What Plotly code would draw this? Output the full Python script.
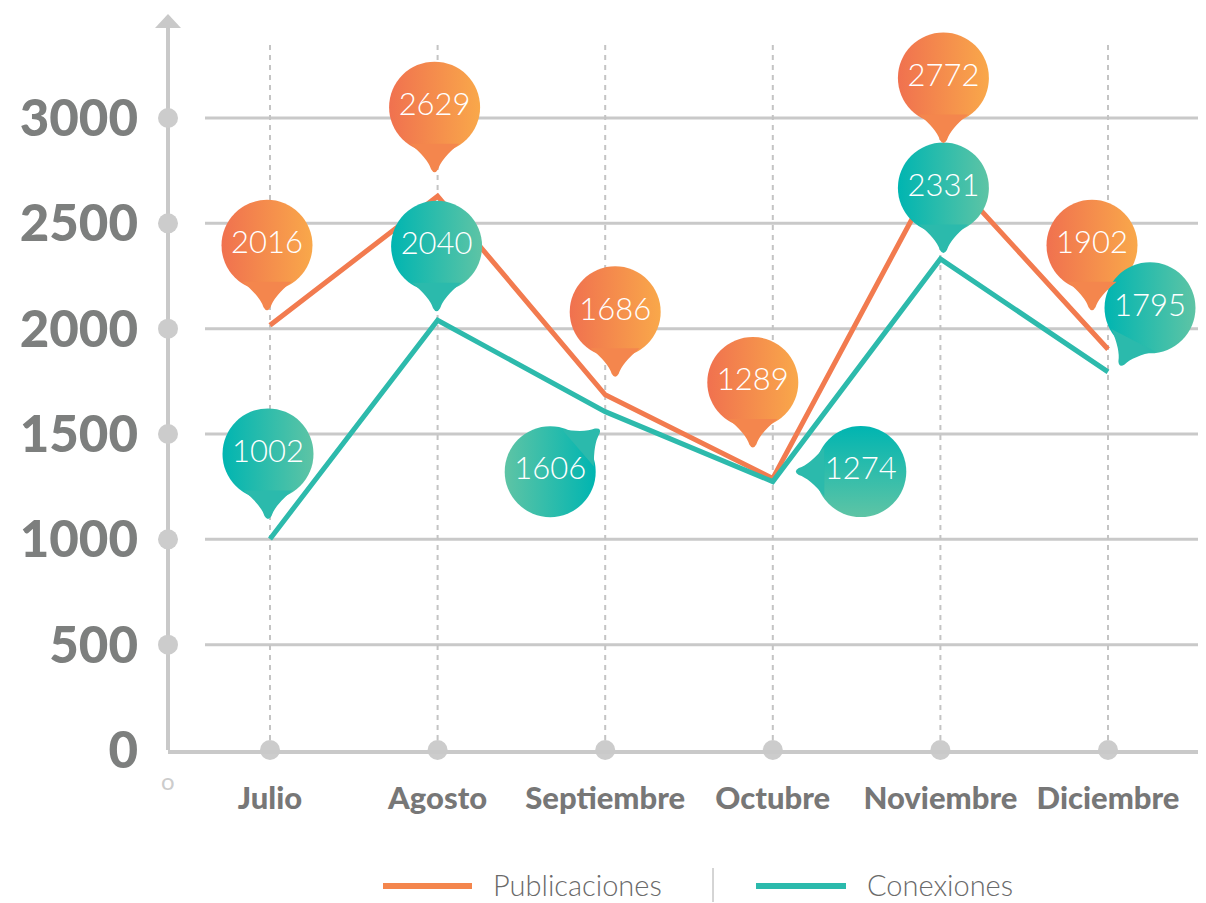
import math
import plotly.graph_objects as go

# ---------------- data ----------------
meses = ["Julio", "Agosto", "Septiembre", "Octubre", "Noviembre", "Diciembre"]
publicaciones = [2016, 2629, 1686, 1289, 2772, 1902]
conexiones = [1002, 2040, 1606, 1274, 2331, 1795]
y_ticks = [0, 500, 1000, 1500, 2000, 2500, 3000]

# ---------------- geometry ----------------
PAGE_OFF = 8                         # default body margin of the page
W, H = 1206 - PAGE_OFF, 903 - PAGE_OFF
ML, MR, MT, MB = 160, 1, 7, 153
PW, PH = W - ML - MR, H - MT - MB
PX_Y = 632 / 3000.0                  # pixels per unit on y
STEP = 167.6                         # pixels per category
X0 = 102                             # px from plot left edge to first category
xr = [-X0 / STEP, (PW - X0) / STEP]
yr = [0, PH / PX_Y]

def py_paper(py):                    # screen pixel y -> paper y
    return (H - MB - (py - PAGE_OFF)) / PH

def px_paper(px):                    # screen pixel x -> paper x
    return (px - PAGE_OFF - ML) / PW

# pin placement (screen px offsets from the point, tail direction)
pub_off = [(-3, -80), (-3, -89), (10, -83), (-20, -96), (3, -88), (-16, -104)]
pub_dir = [(0, 1)] * 6
con_off = [(-2, -85), (-1, -74), (-55, 60), (88, -10), (3, -71), (42, -64)]
con_dir = [(0, 1), (0, 1), (50, -43), (-1, 0), (0, 1), (-30, 58)]

ORANGE_L, ORANGE_R, ORANGE_M = "#F0714F", "#F9A84A", "#F4864D"
TEAL_L, TEAL_R, TEAL_M = "#00B5B1", "#5EC4A5", "#2BBAAC"
GRID = "#C9C9C9"

def tail_path(sx, sy):
    n = math.hypot(sx, sy)
    dx, dy = sx / n, -sy / n
    qx, qy = -dy, dx
    def pt(a, b):
        return (a * dx + b * qx, a * dy + b * qy)
    th = math.radians(34)
    B1 = pt(44 * math.cos(th), 44 * math.sin(th))
    B2 = pt(44 * math.cos(th), -44 * math.sin(th))
    C1, C2 = pt(51, 7), pt(51, -7)
    T1, T2, TT = pt(62, 3.5), pt(62, -3.5), pt(68, 0)
    f = lambda p: f"{p[0]:.1f},{p[1]:.1f}"
    return f"M{f(B1)} Q{f(C1)} {f(T1)} Q{f(TT)} {f(T2)} Q{f(C2)} {f(B2)} Z"

fig = go.Figure()
shapes = []

# horizontal grid lines
for t in y_ticks[1:]:
    shapes.append(dict(type="line", xref="paper", yref="y", x0=px_paper(205), x1=1,
                       y0=t, y1=t, line=dict(color=GRID, width=3), layer="below"))
# vertical dotted lines
for i in range(len(meses)):
    shapes.append(dict(type="line", xref="x", yref="paper", x0=i, x1=i,
                       y0=0, y1=py_paper(40), line=dict(color="#C4C4C4", width=2, dash="5px,5px"),
                       layer="below"))
# y axis line + arrow
shapes.append(dict(type="line", xref="paper", yref="paper", x0=0, x1=0, y0=0, y1=py_paper(27),
                   line=dict(color=GRID, width=4), layer="below"))
shapes.append(dict(type="path", xref="paper", yref="paper",
                   path=f"M{px_paper(155)},{py_paper(28)} L{px_paper(181)},{py_paper(28)} L0,{py_paper(14)} Z",
                   fillcolor=GRID, line=dict(width=0), layer="below"))

# lines
fig.add_trace(go.Scatter(x=list(range(len(meses))), y=publicaciones, mode="lines",
                         line=dict(color="#F27B4F", width=5), name="Publicaciones",
                         hoverinfo="skip", showlegend=False, cliponaxis=False))
fig.add_trace(go.Scatter(x=list(range(len(meses))), y=conexiones, mode="lines",
                         line=dict(color="#2DBAAC", width=5), name="Conexiones",
                         hoverinfo="skip", showlegend=False, cliponaxis=False))

# axis dots
fig.add_trace(go.Scatter(x=[xr[0]] * len(y_ticks[1:]), y=y_ticks[1:], mode="markers",
                         marker=dict(size=20, color="#CCCCCC"), hoverinfo="skip",
                         showlegend=False, cliponaxis=False))
fig.add_trace(go.Scatter(x=list(range(len(meses))), y=[0] * len(meses), mode="markers",
                         marker=dict(size=20, color="#CCCCCC"), hoverinfo="skip",
                         showlegend=False, cliponaxis=False))

def add_pins(values, offs, dirs, cl, cr, cm, gtypes, gswap):
    xs, ys, mc, gc = [], [], [], []
    for i, v in enumerate(values):
        dx, dy = offs[i]
        xc = i + dx / STEP
        yc = v - dy / PX_Y
        xs.append(xc)
        ys.append(yc)
        if gswap[i]:
            mc.append(cr); gc.append(cl)
        else:
            mc.append(cl); gc.append(cr)
        shapes.append(dict(type="path", xref="x", yref="y", xsizemode="pixel",
                           ysizemode="pixel", xanchor=xc, yanchor=yc,
                           path=tail_path(*dirs[i]), fillcolor=cm,
                           line=dict(width=0), layer="above"))
    fig.add_trace(go.Scatter(
        x=xs, y=ys, mode="markers+text", text=[str(v) for v in values],
        textposition="middle center",
        textfont=dict(color="white", size=31, family="Lato", weight=300),
        marker=dict(size=91, color=mc, line=dict(width=0),
                    gradient=dict(type=gtypes, color=gc)),
        hoverinfo="skip", showlegend=False, cliponaxis=False))

add_pins(publicaciones, pub_off, pub_dir, ORANGE_L, ORANGE_R, ORANGE_M,
         ["horizontal"] * 6, [False] * 6)
add_pins(conexiones, con_off, con_dir, TEAL_L, TEAL_R, TEAL_M,
         ["horizontal", "horizontal", "horizontal", "vertical", "horizontal", "horizontal"],
         [False, False, True, False, False, False])

# custom legend
ly = py_paper(886)
shapes.append(dict(type="line", xref="paper", yref="paper", x0=px_paper(383), x1=px_paper(472),
                   y0=ly, y1=ly, line=dict(color=ORANGE_M, width=6)))
shapes.append(dict(type="line", xref="paper", yref="paper", x0=px_paper(756), x1=px_paper(846),
                   y0=ly, y1=ly, line=dict(color=TEAL_M, width=6)))
shapes.append(dict(type="line", xref="paper", yref="paper", x0=px_paper(713), x1=px_paper(713),
                   y0=py_paper(868), y1=py_paper(902), line=dict(color="#AAAAAA", width=1)))

annotations = [
    dict(text="Publicaciones", xref="paper", yref="paper", x=px_paper(492), y=py_paper(884),
         xanchor="left", yanchor="middle", showarrow=False, borderpad=0,
         font=dict(family="Lato", size=29, color="#6A6A6A", weight=300)),
    dict(text="Conexiones", xref="paper", yref="paper", x=px_paper(866), y=py_paper(884),
         xanchor="left", yanchor="middle", showarrow=False, borderpad=0,
         font=dict(family="Lato", size=29, color="#6A6A6A", weight=300)),
    dict(text="o", xref="paper", yref="paper", x=0, y=py_paper(781),
         xanchor="center", yanchor="middle", showarrow=False,
         font=dict(family="Lato", size=24, color="#CCCCCC")),
]

fig.update_layout(
    width=W, height=H, margin=dict(l=ML, r=MR, t=MT, b=MB),
    paper_bgcolor="white", plot_bgcolor="white",
    hovermode=False, showlegend=False,
    shapes=shapes, annotations=annotations,
    xaxis=dict(range=xr, tickmode="array", tickvals=list(range(len(meses))), ticktext=meses,
               showgrid=False, zeroline=False, showline=True, linecolor=GRID, linewidth=4,
               ticks="", ticklabelstandoff=18,
               tickfont=dict(family="Lato", size=31, color="#777777", weight=900)),
    yaxis=dict(range=yr, tickmode="array", tickvals=y_ticks, showgrid=False, zeroline=False,
               showline=False, ticks="", ticklabelstandoff=29,
               tickfont=dict(family="Lato", size=51, color="#7D7F7E", weight=900)),
)

fig.write_html("out.html")
